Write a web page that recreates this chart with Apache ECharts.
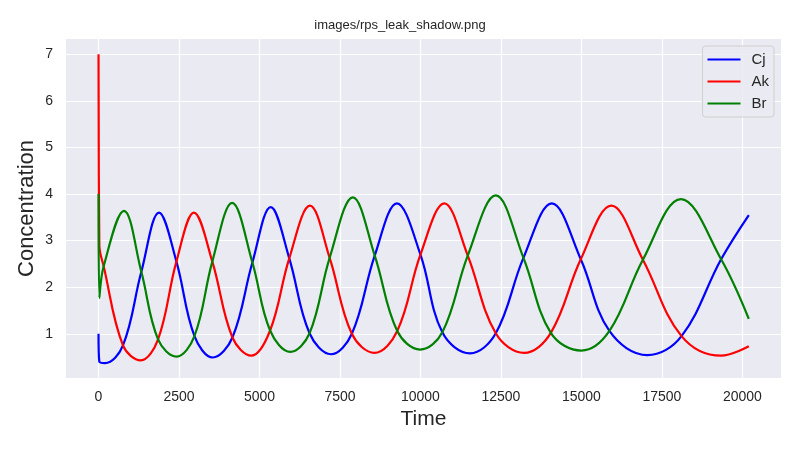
<!DOCTYPE html>
<html>
<head>
<meta charset="utf-8">
<script src="https://cdn.jsdelivr.net/npm/echarts@6/dist/echarts.min.js"></script>
<style>
  html, body { margin: 0; padding: 0; background: #fff; }
  #chart { width: 800px; height: 450px; }
</style>
</head>
<body>
<div id="chart"></div>
<script>
// values: start, peaks, troughs and the points where two curves cross
const cjTime = [0, 25, 200, 760, 1330, 1880, 2420, 2980, 3550, 4160, 4780, 5350, 5925, 6555, 7220, 7870, 8580, 9270, 10000, 10680, 11540, 12340, 13200, 14080, 14980, 15870, 17050, 18110, 19340, 20200]
const cjVal  = [1.00, 0.40, 0.37, 0.75, 2.33, 3.60, 2.55, 0.95, 0.49, 0.92, 2.53, 3.72, 2.62, 1.01, 0.56, 1.00, 2.68, 3.80, 2.70, 1.03, 0.58, 1.01, 2.63, 3.80, 2.60, 1.06, 0.54, 0.95, 2.60, 3.55]

const akTime = [0, 25, 160, 760, 1310, 1850, 2420, 2963, 3535, 4160, 4745, 5330, 5925, 6568, 7180, 7870, 8570, 9280, 10000, 10740, 11470, 12340, 13220, 14050, 14980, 15930, 16910, 18110, 19340, 20200]
const akVal  = [7.00, 2.90, 2.45, 0.75, 0.43, 0.88, 2.55, 3.60, 2.55, 0.92, 0.53, 1.07, 2.62, 3.75, 2.63, 1.00, 0.59, 1.06, 2.70, 3.80, 2.68, 1.01, 0.59, 1.02, 2.60, 3.75, 2.59, 0.95, 0.53, 0.73]

const brTime = [0, 25, 160, 790, 1330, 1850, 2420, 2980, 3535, 4150, 4780, 5330, 5960, 6555, 7180, 7900, 8580, 9280, 9990, 10680, 11470, 12340, 13200, 14050, 15000, 15870, 16910, 18090, 19340, 20200]
const brVal  = [4.00, 1.77, 2.45, 3.64, 2.33, 0.88, 0.51, 0.95, 2.55, 3.81, 2.53, 1.07, 0.61, 1.01, 2.63, 3.93, 2.68, 1.06, 0.66, 1.03, 2.68, 3.97, 2.63, 1.02, 0.64, 1.06, 2.59, 3.89, 2.60, 1.32]

const xTicks = [0, 2500, 5000, 7500, 10000, 12500, 15000, 17500, 20000]
const yTicks = [1, 2, 3, 4, 5, 6, 7]

const zip = (ts, vs) => ts.map((t, i) => [t, vs[i]])

const chart = echarts.init(document.getElementById('chart'))
const font = 'Liberation Sans, Arial, sans-serif'
const ink = '#262626'

const lineSeries = (name, color, ts, vs) => ({
  name,
  type: 'line',
  data: zip(ts, vs),
  showSymbol: false,
  smooth: 0.38,
  lineStyle: { color, width: 2.2 },
  itemStyle: { color },
  animation: false
})

const option = {
  backgroundColor: '#ffffff',
  textStyle: { fontFamily: font, color: ink },
  title: {
    text: 'images/rps_leak_shadow.png',
    left: 'center',
    top: 14,
    textStyle: { fontSize: 13, fontWeight: 'normal', color: ink, fontFamily: font }
  },
  grid: {
    left: 66, right: 19, top: 39, bottom: 72,
    show: true, backgroundColor: '#eaeaf2', borderWidth: 0
  },
  legend: {
    orient: 'vertical',
    right: 26, top: 46,
    icon: 'rect',
    itemWidth: 33, itemHeight: 2.2,
    itemGap: 7,
    padding: [6, 5, 6, 5],
    backgroundColor: 'rgba(234,234,242,0.85)',
    borderColor: '#d0d0d0', borderWidth: 1, borderRadius: 3,
    textStyle: { fontSize: 15, color: ink, fontFamily: font, padding: [0, 0, 0, 6] },
    data: ['Cj', 'Ak', 'Br']
  },
  xAxis: {
    type: 'value',
    min: -1010, max: 21200,
    name: 'Time',
    nameLocation: 'middle',
    nameGap: 30,
    nameTextStyle: { fontSize: 21, color: ink, fontFamily: font },
    axisLine: { show: false },
    axisTick: { show: false, customValues: xTicks },
    axisLabel: { customValues: xTicks, fontSize: 14, color: ink, margin: 12, fontFamily: font, formatter: v => String(v) },
    splitLine: { show: true, lineStyle: { color: '#ffffff', width: 1.2 } }
  },
  yAxis: {
    type: 'value',
    min: 0.05, max: 7.33,
    name: 'Concentration',
    nameLocation: 'middle',
    nameGap: 28,
    nameMoveOverlap: false,
    nameTextStyle: { fontSize: 22, color: ink, fontFamily: font },
    axisLine: { show: false },
    axisTick: { show: false, customValues: yTicks },
    axisLabel: { customValues: yTicks, fontSize: 14, color: ink, margin: 13, fontFamily: font, formatter: v => String(v) },
    splitLine: { show: true, lineStyle: { color: '#ffffff', width: 1.2 } }
  },
  series: [
    lineSeries('Cj', '#0000ff', cjTime, cjVal),
    lineSeries('Ak', '#ff0000', akTime, akVal),
    lineSeries('Br', '#008000', brTime, brVal)
  ]
}

chart.setOption(option)
</script>
</body>
</html>
